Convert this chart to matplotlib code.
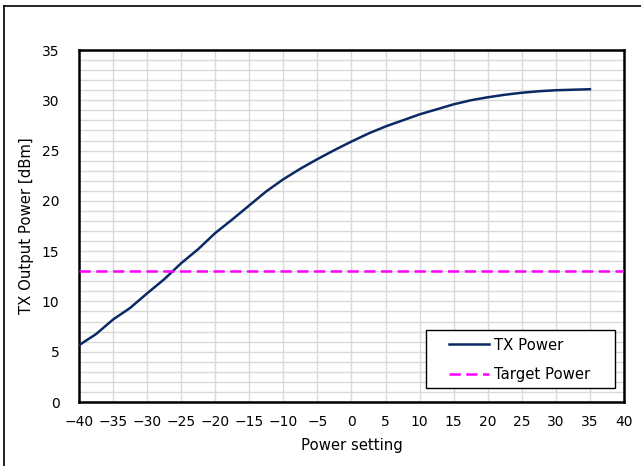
import matplotlib
matplotlib.use("Agg")
import matplotlib.pyplot as plt
from matplotlib.lines import Line2D
from matplotlib.patches import Rectangle

settings = [-40, -37.5, -35, -32.5, -30, -27.5, -25, -22.5, -20, -17.5, -15, -12.5,
            -10, -7.5, -5, -2.5, 0, 2.5, 5, 7.5, 10, 12.5, 15, 17.5, 20, 22.5,
            25, 27.5, 30, 32.5, 35]
tx_power = [5.65, 6.75, 8.2, 9.35, 10.8, 12.2, 13.8, 15.2, 16.8, 18.15, 19.55, 20.95,
            22.15, 23.2, 24.15, 25.05, 25.9, 26.7, 27.4, 28.0, 28.6, 29.1, 29.6, 30.0,
            30.3, 30.55, 30.75, 30.9, 31.0, 31.05, 31.1]
target_level = 13
x_range = [-40, 40]

plt.rcParams["font.family"] = ["DejaVu Sans"]
plt.rcParams["font.size"] = 10

fig = plt.figure(figsize=(6.41, 4.66), dpi=100)
ax = fig.add_axes([0.1232, 0.1373, 0.8503, 0.7554])

ax.plot(settings, tx_power, color="#0b2a63", lw=1.8, label="TX Power", zorder=3)
ax.plot(x_range, [target_level, target_level], color="#ff00ff", lw=1.8,
        linestyle=(0, (4.5, 2.2)), label="Target Power", zorder=3)

ax.set_xlim(-40, 40)
ax.set_ylim(0, 35)
ax.set_xticks(range(-40, 41, 5))
ax.set_yticks(range(0, 36, 5))
ax.set_yticks(range(0, 36, 1), minor=True)
ax.tick_params(length=0, which="both")
ax.tick_params(axis="y", pad=14)
ax.tick_params(axis="x", pad=9)

ax.grid(True, axis="x", which="major", color="#d9d9d9", lw=1)
ax.grid(True, axis="y", which="both", color="#d9d9d9", lw=1)
ax.set_axisbelow(True)
for s in ax.spines.values():
    s.set_color("black")
    s.set_linewidth(1.8)

ax.set_xlabel("Power setting", fontsize=10.7)
ax.set_ylabel("TX Output Power [dBm]", fontsize=10.7)
ax.xaxis.set_label_coords(0.5, -0.102)
ax.yaxis.set_label_coords(-0.082, 0.5)

# legend box drawn separately so the padding matches the reference
ax.add_patch(Rectangle((0.6367, 0.0398), 0.3468, 0.1647, transform=ax.transAxes,
                       facecolor="white", edgecolor="black", lw=1.0, zorder=4))
leg = ax.legend(loc="upper left", bbox_to_anchor=(0.679, 0.183), frameon=False,
                fontsize=10.7, handlelength=2.7, handletextpad=0.3,
                labelspacing=0.95, borderpad=0, borderaxespad=0)
leg.set_zorder(5)

# outer chart-area border (only top and left fall inside the image)
fig.add_artist(Line2D([0.007, 0.007], [0, 0.988], color="black", lw=1.2,
                      transform=fig.transFigure))
fig.add_artist(Line2D([0.007, 1.0], [0.988, 0.988], color="black", lw=1.2,
                      transform=fig.transFigure))

fig.savefig("out.png", dpi=100)
